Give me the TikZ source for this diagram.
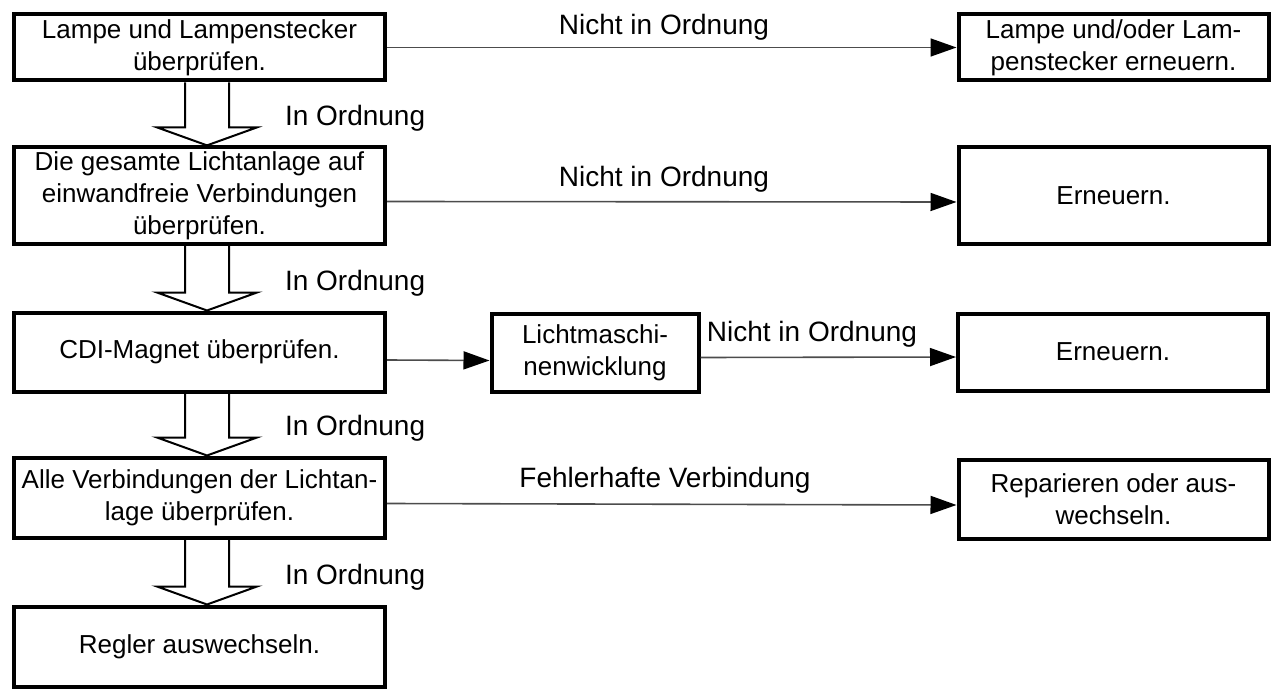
\documentclass[tikz,border=0pt]{standalone}
\usepackage{fontspec}
\setmainfont{Liberation Sans}
\usetikzlibrary{arrows.meta,calc}
\tikzset{
  stepbox/.style={draw=black, line width=2pt, align=center, inner sep=2pt, font=\fontsize{13}{16}\selectfont},
  leftbox/.style={stepbox, minimum width=185.5pt},
  rightbox/.style={stepbox, minimum width=155pt},
  arrow/.style={-{Triangle[length=13pt,width=9pt,black]}, line width=0.8pt, draw=black!70},
  okarrow/.style={draw=black, line width=1pt, line join=miter},
  verdict/.style={font=\fontsize{14}{17}\selectfont, anchor=base}
}
% hollow down arrow between two steps, with its label
\newcommand{\okstep}[2]{%
  \draw[okarrow] ($(#1.south)+(-14.5,0)$) -- ($(#2.north)+(-14.5,-18)$) -- ($(#2.north)+(-42.5,-18)$)
    -- ($(#2.north)+(7.5,0)$) -- ($(#2.north)+(57.5,-18)$) -- ($(#2.north)+(29.5,-18)$) -- ($(#1.south)+(29.5,0)$);
  \node[verdict, anchor=base west] (#1ok) at ($(#2.north)+(78.5,-20)$) {In Ordnung};
}

\begin{document}
\begin{tikzpicture}[x=0.5pt, y=-0.5pt]
  \useasboundingbox (0,0) rectangle (1276,690);
  % left column
  \node[leftbox, minimum height=33pt] (l1) at (199.5,47.5) {Lampe und Lampenstecker\\überprüfen.};
  \node[leftbox, minimum height=48pt] (l2) at (199.5,195.5) {Die gesamte Lichtanlage auf\\einwandfreie Verbindungen\\überprüfen.};
  \node[leftbox, minimum height=39.5pt] (l3) at (199.5,352) {CDI-Magnet überprüfen.};
  \node[leftbox, minimum height=40pt] (l4) at (199.5,497.5) {Alle Verbindungen der Lichtan-\\lage überprüfen.};
  \node[leftbox, minimum height=40pt] (l5) at (199.5,646.5) {Regler auswechseln.};
  % right column
  \node[rightbox, minimum height=33pt] (r1) at (1113.5,47.5) {Lampe und/oder Lam-\\penstecker erneuern.};
  \node[rightbox, minimum height=48.5pt] (r2) at (1113.5,196) {Erneuern.};
  \node[rightbox, minimum height=38.5pt] (r3) at (1113,352) {Erneuern.};
  \node[rightbox, minimum height=39.5pt] (r4) at (1113.5,499) {Reparieren oder aus-\\wechseln.};
  \node[stepbox, minimum width=103.5pt, minimum height=39pt] (m) at (595,352.5) {Lichtmaschi-\\nenwicklung};

  \okstep{l1}{l2}
  \okstep{l2}{l3}
  \okstep{l3}{l4}
  \okstep{l4}{l5}

  \draw[arrow] (l1.east) -- (r1.west);
  \draw[arrow] ([yshift=-3pt]l2.east) -- ([yshift=-3pt]r2.west);
  \draw[arrow] ([yshift=-4pt]l3.east) -- ([yshift=-4pt]m.west);
  \draw[arrow] ([yshift=-2.5pt]m.east) -- ([yshift=-2.5pt]r3.west);
  \draw[arrow] ([yshift=-3pt]l4.east) -- ([yshift=-3pt]r4.west);

  \node[verdict] (n1) at (664,35) {Nicht in Ordnung};
  \node[verdict] (n2) at (664,187) {Nicht in Ordnung};
  \node[verdict] (n3) at (812,342) {Nicht in Ordnung};
  \node[verdict] (n4) at (665,487) {Fehlerhafte Verbindung};
\end{tikzpicture}
\end{document}
